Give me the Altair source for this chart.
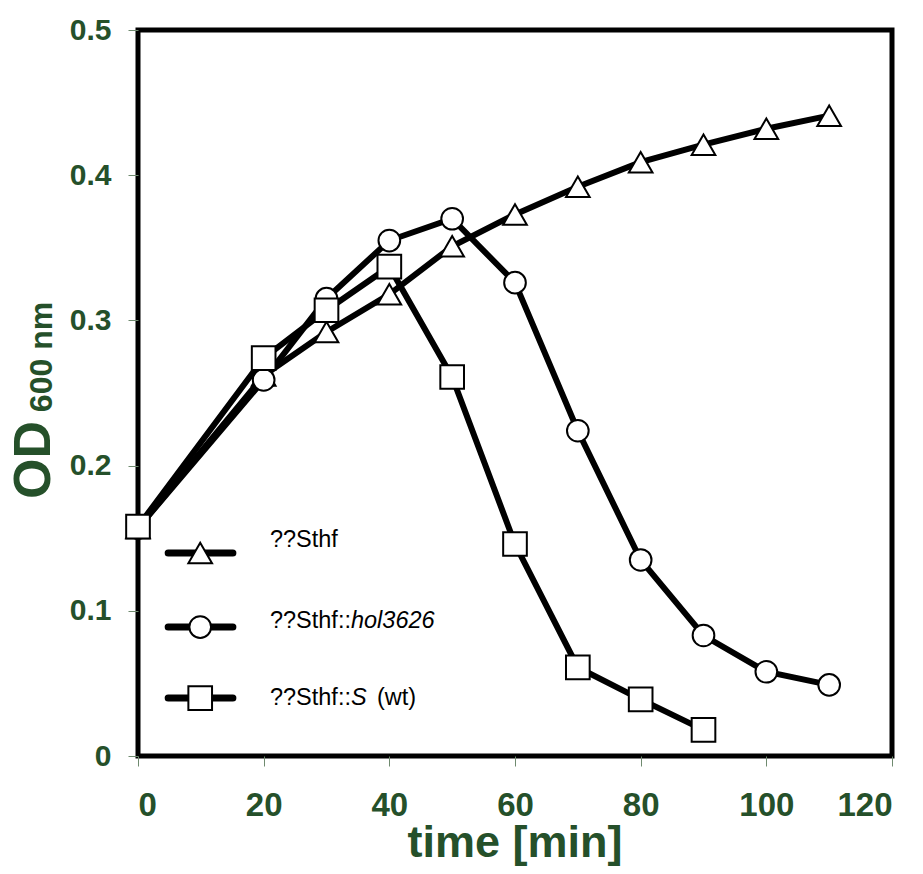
import altair as alt
import pandas as pd

# ---- data ----
times_sthf = [0, 20, 30, 40, 50, 60, 70, 80, 90, 100, 110]
od_sthf = [0.157, 0.262, 0.292, 0.318, 0.351, 0.373, 0.392, 0.409, 0.421, 0.432, 0.441]

times_hol = [0, 20, 30, 40, 50, 60, 70, 80, 90, 100, 110]
od_hol = [0.157, 0.259, 0.315, 0.355, 0.370, 0.326, 0.224, 0.135, 0.083, 0.058, 0.049]

times_wt = [0, 20, 30, 40, 50, 60, 70, 80, 90]
od_wt = [0.158, 0.274, 0.307, 0.337, 0.261, 0.146, 0.061, 0.039, 0.018]

series_names = ["??Sthf", "??Sthf::hol3626", "??Sthf::S (wt)"]
shapes = ["triangle-up", "circle", "square"]
sizes = [560, 470, 560]

x_ticks = [0, 20, 40, 60, 80, 100, 120]
y_ticks = [0, 0.1, 0.2, 0.3, 0.4, 0.5]

# legend (drawn in data coordinates inside the plot)
leg_x1 = [4.8, 4.8, 4.8]
leg_x2 = [15.1, 15.1, 15.1]
leg_xm = [9.9, 9.9, 9.9]
leg_sym_y = [0.1398, 0.0888, 0.0399]
leg_text_x = [21.0, 21.0, 21.0]
leg_text_y = [0.1439, 0.0882, 0.0351]
leg_prefix = ["??Sthf", "??Sthf::", "??Sthf::"]
leg_italic = ["", "hol3626", "S"]
leg_suffix = ["", "", "(wt)"]

GREEN = "#25502a"
TICK = "#6f8a6f"

rows = []
for name, ts, vs in zip(series_names, [times_sthf, times_hol, times_wt], [od_sthf, od_hol, od_wt]):
    for t, v in zip(ts, vs):
        rows.append({"series": name, "time": t, "od": v})
df = pd.DataFrame(rows)

leg = pd.DataFrame({
    "series": series_names, "x1": leg_x1, "x2": leg_x2, "xm": leg_xm, "ys": leg_sym_y,
    "tx": leg_text_x, "ty": leg_text_y, "pre": leg_prefix, "ita": leg_italic, "suf": leg_suffix,
})

xscale = alt.Scale(domain=[0, 120], nice=False, zero=False)
yscale = alt.Scale(domain=[0, 0.5], nice=False)

xaxis = alt.Axis(values=x_ticks, title=None, grid=False, domain=False,
                 tickColor=TICK, tickSize=10, tickWidth=1,
                 labelFont="Liberation Sans", labelFontWeight="bold",
                 labelFontSize=33, labelColor=GREEN, labelPadding=23)
yaxis = alt.Axis(values=y_ticks, title=None, grid=False, domain=False,
                 tickColor=TICK, tickSize=10, tickWidth=1,
                 labelFont="Liberation Sans", labelFontWeight="bold",
                 labelFontSize=30, labelColor=GREEN, labelPadding=17,
                 labelExpr="datum.value == 0 ? '0' : format(datum.value, '.1f')")

layers = []
base = alt.Chart(df)
for i, name in enumerate(series_names):
    sub = base.transform_filter(alt.datum.series == name)
    line = sub.mark_line(color="black", strokeWidth=6).encode(
        x=alt.X("time:Q", scale=xscale, axis=xaxis),
        y=alt.Y("od:Q", scale=yscale, axis=yaxis),
    )
    pts = sub.mark_point(shape=shapes[i], size=sizes[i], filled=True, fill="white",
                         stroke="black", strokeWidth=2, opacity=1).encode(
        x="time:Q", y="od:Q")
    layers += [line, pts]

lb = alt.Chart(leg)
leg_rule = lb.mark_rule(color="black", strokeWidth=7, strokeCap="round").encode(
    x="x1:Q", x2="x2:Q", y="ys:Q")
layers.append(leg_rule)
for i, name in enumerate(series_names):
    layers.append(lb.transform_filter(alt.datum.series == name).mark_point(
        shape=shapes[i], size=sizes[i], filled=True, fill="white", stroke="black",
        strokeWidth=2, opacity=1).encode(x="xm:Q", y="ys:Q"))
txt_kw = dict(font="Liberation Sans", fontSize=23.5, color="black", align="left", baseline="alphabetic")
layers.append(lb.mark_text(**txt_kw).encode(x="tx:Q", y="ty:Q", text="pre:N"))
layers.append(lb.mark_text(fontStyle="italic", dx=81, **txt_kw).encode(x="tx:Q", y="ty:Q", text="ita:N"))
layers.append(lb.mark_text(dx=107, **txt_kw).encode(x="tx:Q", y="ty:Q", text="suf:N"))

# axis titles
xt_df = pd.DataFrame({"t": ["time [min]"]})
layers.append(alt.Chart(xt_df).mark_text(
    font="Liberation Sans", fontWeight="bold", fontSize=45, color=GREEN,
    align="center", baseline="alphabetic").encode(
    x=alt.value(377), y=alt.value(827), text="t:N"))

title_df = pd.DataFrame({"t": ["OD"]})
sub_df = pd.DataFrame({"t": ["600 nm"]})
layers.append(alt.Chart(title_df).mark_text(
    font="Liberation Sans", fontWeight="bold", fontSize=52, color=GREEN, angle=270,
    align="center", baseline="middle").encode(
    x=alt.value(-104), y=alt.value(430), text="t:N"))
layers.append(alt.Chart(sub_df).mark_text(
    font="Liberation Sans", fontWeight="bold", fontSize=32, color=GREEN, angle=270,
    align="center", baseline="middle").encode(
    x=alt.value(-96), y=alt.value(327), text="t:N"))

chart = alt.layer(*layers).properties(
    width=754, height=726, autosize="none", background="white",
    padding={"left": 130, "top": 22, "right": 23, "bottom": 110},
).configure_view(stroke="black", strokeWidth=5)

chart.save("out.html", embed_options={"renderer": "svg", "actions": False})
